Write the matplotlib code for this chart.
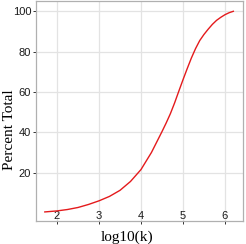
import matplotlib
matplotlib.use("Agg")
import matplotlib.pyplot as plt

# cumulative percent vs log10(k)
log_k = [1.71, 2.0, 2.25, 2.5, 2.75, 3.0, 3.25, 3.5, 3.75, 4.0, 4.25, 4.5,
         4.6, 4.7, 4.8, 4.9, 5.0, 5.1, 5.2, 5.3, 5.4, 5.5, 5.6, 5.7, 5.8,
         5.9, 6.0, 6.1, 6.2]
pct_total = [0.5, 1.0, 1.7, 2.7, 4.2, 6.0, 8.2, 11.2, 15.6, 21.5, 30.0, 40.3,
             44.6, 49.2, 54.5, 60.3, 66.0, 71.5, 76.8, 81.5, 85.5, 88.5, 91.1,
             93.5, 95.5, 97.0, 98.3, 99.3, 100.0]
x_ticks = [2, 3, 4, 5, 6]
y_ticks = [20, 40, 60, 80, 100]

fig = plt.figure(figsize=(2.46, 2.44), dpi=100)
ax = fig.add_axes([36 / 246, 23 / 244, 207 / 246, 220 / 244])

ax.plot(log_k, pct_total, color="#e41a1c", linewidth=1.0)
ax.set_xlim(1.5, 6.43)
ax.set_ylim(-4, 105.1)
ax.set_xticks(x_ticks)
ax.set_yticks(y_ticks)

ax.grid(True, color="#e3e3e3", linewidth=0.9)
ax.set_axisbelow(True)
for s in ax.spines.values():
    s.set_color("#b0b0b0")
    s.set_linewidth(0.9)

ax.tick_params(axis="both", labelsize=8, colors="#333333", length=2.5,
               width=0.7, labelcolor="#1a1a1a")
ax.tick_params(axis="x", pad=-9.5)
ax.tick_params(axis="y", pad=1)
for lab in ax.get_xticklabels() + ax.get_yticklabels():
    lab.set_family("Liberation Sans")

fig.text(10 / 246, 1 - 130 / 244, "Percent Total", rotation=90, ha="center",
         va="center", fontsize=11, family="Liberation Serif")
fig.text(127 / 246, 1 - 237 / 244, "log10(k)", ha="center", va="center",
         fontsize=11, family="Liberation Serif")

fig.savefig("out.png", dpi=100)
